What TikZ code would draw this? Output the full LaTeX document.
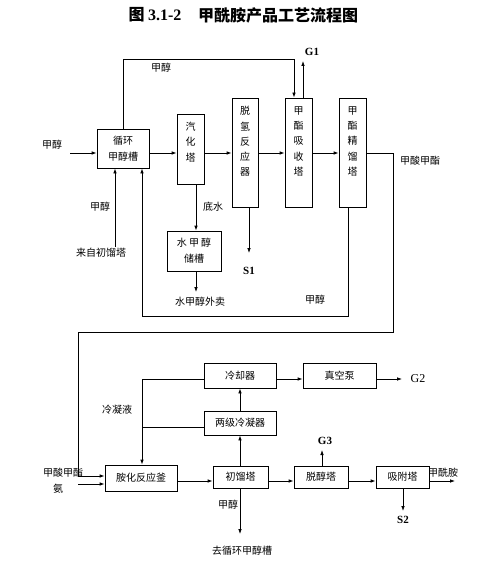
\documentclass[tikz,border=0pt]{standalone}
\usepackage{fontspec}
\setmainfont{Liberation Serif}
\newfontfamily\cjk{Noto Sans CJK SC}
\usetikzlibrary{arrows.meta}
\begin{document}
\begin{tikzpicture}[x=1pt,y=-1pt,
  every node/.style={font=\cjk\fontsize{10}{16}\selectfont, inner sep=0pt},
  box/.style={draw, line width=0.8pt, align=center},
  vtext/.style={align=center, font=\cjk\fontsize{10}{15.3}\selectfont},
  tag/.style={font=\bfseries\fontsize{11}{12}\selectfont},
  ln/.style={line width=0.8pt},
  arr/.style={line width=0.8pt, -{Latex[length=5pt,width=3.6pt]}}]
\useasboundingbox (0,0) rectangle (483,567);
% title
\node (t1) at (155,15) {\cjk\bfseries\fontsize{16}{18}\selectfont 图 \rmfamily 3.1-2};
\node (t2) at (278,15) {\cjk\bfseries\fontsize{16}{18}\selectfont 甲酰胺产品工艺流程图};
% top section boxes
\node[box, minimum width=52, minimum height=39] (xh) at (123,148.5) {循环\\甲醇槽};
\node[box, minimum width=27, minimum height=70] (qh) at (190.5,149) {};
\node[vtext] (qht) at (190.5,142) {汽\\化\\塔};
\node[box, minimum width=26, minimum height=109] (tq) at (245,152.5) {};
\node[vtext] (tqt) at (245,141.5) {脱\\氢\\反\\应\\器};
\node[box, minimum width=27, minimum height=109] (xs) at (298.5,152.5) {};
\node[vtext] (xst) at (298.5,141.5) {甲\\酯\\吸\\收\\塔};
\node[box, minimum width=27, minimum height=109] (jl) at (352.5,152.5) {};
\node[vtext] (jlt) at (352.5,141.5) {甲\\酯\\精\\馏\\塔};
\node[box, minimum width=54, minimum height=40] (sc) at (194,251) {水 甲 醇\\储槽};
% top labels
\node (l1) at (161,68) {甲醇};
\node[tag] (g1) at (312,52) {G1};
\node (l2) at (52,145) {甲醇};
\node (l3) at (100,207) {甲醇};
\node (l4) at (101,253) {来自初馏塔};
\node (l5) at (213,207) {底水};
\node (l6) at (200,302) {水甲醇外卖};
\node[tag] (s1) at (249,271) {S1};
\node (l7) at (315,300) {甲醇};
\node (l8) at (420,161) {甲酸甲酯};
\coordinate (in1) at (70,153);
\coordinate (src1) at (115,247);
\coordinate (s1e) at (249,253);
\coordinate (g1e) at (303,61);
\coordinate (sce) at (196,292);
\coordinate (rt) at (123,59);
\coordinate (rb1) at (348,316);
\coordinate (rb2) at (142,316);
% top connectors
\draw[arr] (in1) -- (xh.west |- in1);
\draw[arr] (xh.east |- 0,153) -- (qh.west |- 0,153);
\draw[arr] (qh.east |- 0,153) -- (tq.west |- 0,153);
\draw[arr] (tq.east |- 0,153) -- (xs.west |- 0,153);
\draw[arr] (xs.east |- 0,153) -- (jl.west |- 0,153);
\draw[arr] (xh.north) -- (rt) -| ([xshift=-4.5pt]xs.north);
\draw[arr] ([xshift=4.5pt]xs.north) -- (g1e);
\draw[arr] (src1) -- (src1 |- xh.south);
\draw[arr] ([xshift=-4.5pt]jl.south) -- (rb1) -- (rb2) -- (rb2 |- xh.south);
\draw[arr] ([xshift=5.5pt]qh.south) -- ([xshift=2pt]sc.north);
\draw[arr] ([xshift=2pt]sc.south) -- (sce);
\draw[arr] ([xshift=4pt]tq.south) -- (s1e);
% bottom boxes
\node[box, minimum width=72, minimum height=25] (lq) at (240,375.5) {冷却器};
\node[box, minimum width=73, minimum height=25] (zk) at (339.5,375.5) {真空泵};
\node[box, minimum width=72, minimum height=24] (lj) at (240,423) {两级冷凝器};
\node[box, minimum width=72, minimum height=26] (ah) at (141,478) {胺化反应釜};
\node[box, minimum width=55, minimum height=22] (cl) at (240.5,477) {初馏塔};
\node[box, minimum width=54, minimum height=22] (tc) at (321,477) {脱醇塔};
\node[box, minimum width=53, minimum height=22] (xf) at (402.5,477) {吸附塔};
% bottom labels
\node[font=\fontsize{12}{13}\selectfont] (g2) at (418,379) {G2};
\node (l9) at (117,410) {冷凝液};
\node[tag] (g3) at (325,441) {G3};
\node (l10) at (63,473) {甲酸甲酯};
\node (l11) at (58,489) {氨};
\node (l12) at (443,473) {甲酰胺};
\node (l13) at (228,505) {甲醇};
\node (l14) at (242,551) {去循环甲醇槽};
\node[tag] (s2) at (403,520) {S2};
\coordinate (g2e) at (402,379);
\coordinate (g3e) at (322,450);
\coordinate (cle) at (240,534);
\coordinate (s2e) at (403,511);
\coordinate (pe) at (455,481);
\coordinate (nh3) at (78,484);
\coordinate (cd1) at (142,379);
\coordinate (cd2) at (142,427);
\coordinate (lp1) at (393,153);
\coordinate (lp2) at (393,332);
\coordinate (lp3) at (78,332);
\coordinate (lp4) at (78,476);
% bottom connectors
\draw[arr] ([xshift=-0.5pt]cl.north) -- ([xshift=-0.5pt]cl.north |- lj.south);
\draw[arr] (lj.north) -- (lq.south);
\draw[arr] (lq.east |- cd1) -- (zk.west |- cd1);
\draw[arr] (zk.east |- cd1) -- (g2e);
\draw[ln] (lq.west |- cd1) -- (cd1);
\draw[ln] (lj.west |- cd2) -- (cd2);
\draw[arr] (cd1) -- (cd1 |- ah.north);
\draw[arr] (jl.east |- lp1) -- (lp1) -- (lp2) -- (lp3) -- (lp4) -- (ah.west |- lp4);
\draw[arr] (nh3) -- (ah.west |- nh3);
\draw[arr] (ah.east |- pe) -- (cl.west |- pe);
\draw[arr] (cl.east |- pe) -- (tc.west |- pe);
\draw[arr] (tc.east |- pe) -- (xf.west |- pe);
\draw[arr] (xf.east |- pe) -- (pe);
\draw[arr] ([xshift=1pt]tc.north) -- (g3e);
\draw[arr] ([xshift=-0.5pt]cl.south) -- (cle);
\draw[arr] ([xshift=0.5pt]xf.south) -- (s2e);
\end{tikzpicture}
\end{document}
